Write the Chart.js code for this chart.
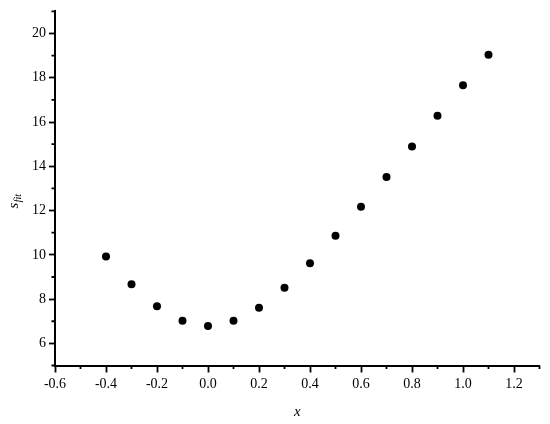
<!DOCTYPE html>
<html>
<head>
<meta charset="utf-8">
<script src="https://cdn.jsdelivr.net/npm/chart.js@4"></script>
<style>
  html, body { margin: 0; padding: 0; background: #fff; }
  #wrap { width: 550px; height: 424px; }
</style>
</head>
<body>
<div id="wrap"><canvas id="sfitChart"></canvas></div>
<script>
// values
const x_data = [-0.4, -0.3, -0.2, -0.1, 0.0, 0.1, 0.2, 0.3, 0.4, 0.5, 0.6, 0.7, 0.8, 0.9, 1.0, 1.1];
const sfit_data = [9.93, 8.67, 7.68, 7.02, 6.78, 7.02, 7.61, 8.51, 9.62, 10.86, 12.17, 13.52, 14.9, 16.28, 17.66, 19.04];

const xTicks = [-0.6, -0.4, -0.2, 0.0, 0.2, 0.4, 0.6, 0.8, 1.0, 1.2];
const xMinor = [-0.5, -0.3, -0.1, 0.1, 0.3, 0.5, 0.7, 0.9, 1.1, 1.3];
const yTicks = [6, 8, 10, 12, 14, 16, 18, 20];
const yMinor = [5, 7, 9, 11, 13, 15, 17, 19, 21];

const serif = '"Liberation Serif", "DejaVu Serif", serif';

// short minor ticks plus the y title with its subscript
const extrasPlugin = {
  id: 'extras',
  afterDraw(chart) {
    const ctx = chart.ctx;
    const xs = chart.scales.x, ys = chart.scales.y;
    const area = chart.chartArea;
    ctx.save();
    ctx.strokeStyle = '#000';
    ctx.lineWidth = 1.8;
    ctx.beginPath();
    xMinor.forEach(v => {
      const px = xs.getPixelForValue(v);
      ctx.moveTo(px, area.bottom);
      ctx.lineTo(px, area.bottom + 3.5);
    });
    yMinor.forEach(v => {
      const py = ys.getPixelForValue(v);
      ctx.moveTo(area.left, py);
      ctx.lineTo(area.left - 3.5, py);
    });
    ctx.stroke();

    ctx.translate(area.left - 41, (area.top + area.bottom) / 2 + 13);
    ctx.rotate(-Math.PI / 2);
    ctx.fillStyle = '#000';
    ctx.textBaseline = 'alphabetic';
    ctx.font = 'italic 15px ' + serif;
    const sw = ctx.measureText('s').width;
    ctx.font = 'italic 10px ' + serif;
    const fw = ctx.measureText('fit').width;
    const start = -(sw + fw) / 2;
    ctx.font = 'italic 15px ' + serif;
    ctx.fillText('s', start, 4);
    ctx.font = 'italic 10px ' + serif;
    ctx.fillText('fit', start + sw + 0.5, 7);
    ctx.restore();
  }
};

var sfitChart = new Chart(
  document.getElementById('sfitChart'),
  {
    type: 'scatter',
    plugins: [extrasPlugin],
    data: {
      datasets: [
        {
          label: 'sfit',
          data: x_data.map((x, i) => ({ x: x, y: sfit_data[i] })),
          pointRadius: 4,
          pointHoverRadius: 4,
          pointBackgroundColor: '#000',
          pointBorderWidth: 0,
          showLine: false,
        }
      ]
    },
    options: {
      animation: false,
      responsive: true,
      maintainAspectRatio: false,
      layout: {
        padding: { top: 7.5, right: 10.5, bottom: 0, left: 0 }
      },
      plugins: {
        legend: { display: false },
        tooltip: { enabled: false }
      },
      scales: {
        x: {
          type: 'linear',
          min: -0.6,
          max: 1.3,
          afterFit: scale => { scale.height = 58.5; },
          afterBuildTicks: scale => { scale.ticks = xTicks.map(v => ({ value: v })); },
          border: { display: true, color: '#000', width: 2 },
          grid: {
            drawOnChartArea: false,
            drawTicks: true,
            tickLength: 7,
            tickWidth: 1.8,
            tickColor: '#000'
          },
          ticks: {
            color: '#000',
            padding: 3,
            maxRotation: 0,
            autoSkip: false,
            font: { family: serif, size: 14 },
            callback: v => v.toFixed(1)
          },
          title: {
            display: true,
            text: 'x',
            color: '#000',
            padding: { top: 0, bottom: 3 },
            font: { family: serif, size: 15, style: 'italic' }
          }
        },
        y: {
          type: 'linear',
          min: 5,
          max: 21,
          afterFit: scale => { scale.width = 55; },
          afterBuildTicks: scale => { scale.ticks = yTicks.map(v => ({ value: v })); },
          border: { display: true, color: '#000', width: 2 },
          grid: {
            drawOnChartArea: false,
            drawTicks: true,
            tickLength: 6,
            tickWidth: 1.8,
            tickColor: '#000'
          },
          ticks: {
            color: '#000',
            padding: 3,
            autoSkip: false,
            font: { family: serif, size: 14 },
            callback: v => String(v)
          }
        }
      }
    }
  }
);
</script>
</body>
</html>
